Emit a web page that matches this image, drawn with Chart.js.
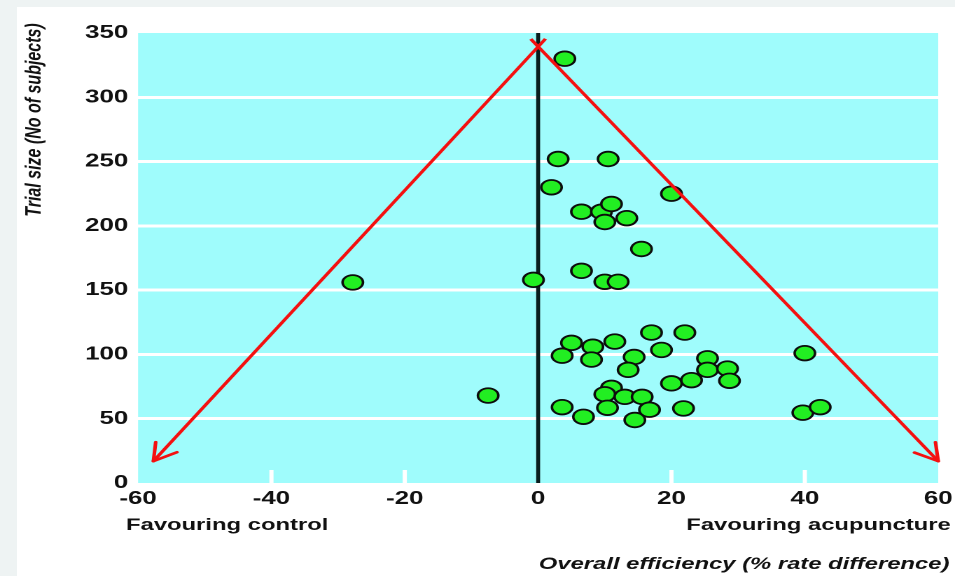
<!DOCTYPE html>
<html>
<head>
<meta charset="utf-8">
<title>Funnel plot - acupuncture trials</title>
<script src="https://cdn.jsdelivr.net/npm/chart.js@4.4.1/dist/chart.umd.min.js"></script>
<style>
    html, body { margin: 0; padding: 0; background: #ffffff; }
    #wrap { position: relative; width: 955px; height: 576px; overflow: hidden; }
    .strip { position: absolute; background: #eef3f3; }
    #funnel { position: absolute; left: 0; top: 0; }
</style>
</head>
<body>
<div id="wrap">
    <div class="strip" style="left:0;top:0;width:955px;height:7px"></div>
    <div class="strip" style="left:0;top:0;width:17px;height:576px"></div>
    <!-- the original figure is stretched sideways, so the canvas is drawn narrow and widened by css -->
    <canvas id="funnel" width="682" height="576" style="width:955px;height:576px"></canvas>
</div>
<script>
// Trial results: effect (% rate difference) and trial size (no of subjects)
const effect = [4, 3, 10.5, 2, 20, 6.5, 9.5, 11, 13.3, 10,
    15.5, 6.5, -0.7, 10, 12, -27.8, -7.5, 5, 3.6, 8.2,
    8, 11.5, 17, 22, 18.5, 14.4, 13.5, 3.6, 6.8, 11,
    10, 10.4, 13, 15.6, 16.7, 14.5, 21.8, 20, 23, 25.4,
    25.4, 28.4, 28.7, 40, 39.7, 42.3];
const trialSize = [330, 252, 252, 230, 225, 211, 211, 217, 206, 203,
    182, 165, 158, 156.5, 156.5, 156, 68, 109, 99, 106,
    96, 110, 117, 117, 103.5, 98, 88, 59, 51.5, 74,
    69, 58.5, 67, 67, 57, 49, 58, 77.5, 80, 97,
    88, 89, 79.5, 101, 54.7, 59];

const xTickValues = [-60, -40, -20, 0, 20, 40, 60];
const yTickValues = [0, 50, 100, 150, 200, 250, 300, 350];
// short white marks on the bottom edge
const xMarkValues = [-40, -20, 20, 40];

// funnel arms: arrow tip first, then just past the apex
const leftArmX = [-57.7, 1.1];
const leftArmY = [17, 345.5];
const rightArmX = [60, -1.1];
const rightArmY = [17, 345.3];
// line of no effect
const nullLineX = [0, 0];
const nullLineY = [0, 350];

const FONT = "'Liberation Sans', Arial, Helvetica, sans-serif";
const armColor = '#f41010';

function toPoints(xs, ys) {
    return xs.map((x, i) => ({ x: x, y: ys[i] }));
}

// background, edge marks, arrow heads and the extra labels
const decorations = {
    id: 'decorations',
    beforeDraw(chart) {
        const { ctx, chartArea: a } = chart;
        ctx.save();
        ctx.fillStyle = '#9ffcfc';
        ctx.fillRect(a.left, a.top, a.right - a.left, a.bottom - a.top);
        ctx.restore();
    },
    beforeDatasetsDraw(chart) {
        const { ctx, chartArea: a } = chart;
        const x = chart.scales.x;
        ctx.save();
        ctx.strokeStyle = '#ffffff';
        ctx.lineWidth = 3;
        xMarkValues.forEach((v) => {
            const px = x.getPixelForValue(v);
            ctx.beginPath();
            ctx.moveTo(px, a.bottom);
            ctx.lineTo(px, a.bottom - 13);
            ctx.stroke();
        });
        ctx.restore();
    },
    afterDatasetsDraw(chart) {
        const ctx = chart.ctx;
        ctx.save();
        ctx.strokeStyle = armColor;
        ctx.lineWidth = 2.6;
        ctx.lineCap = 'round';
        [0, 1].forEach((i) => {
            const pts = chart.getDatasetMeta(i).data;
            const tip = pts[0];
            const from = pts[1];
            const ang = Math.atan2(from.y - tip.y, from.x - tip.x);
            [-0.5, 0.5].forEach((d) => {
                ctx.beginPath();
                ctx.moveTo(tip.x, tip.y);
                ctx.lineTo(tip.x + 19 * Math.cos(ang + d), tip.y + 19 * Math.sin(ang + d));
                ctx.stroke();
            });
        });
        ctx.restore();
    },
    afterDraw(chart) {
        const ctx = chart.ctx;
        ctx.save();
        ctx.fillStyle = '#111111';
        ctx.textBaseline = 'alphabetic';
        ctx.font = 'bold 17px ' + FONT;
        ctx.textAlign = 'left';
        ctx.fillText('Favouring control', 90, 530);
        ctx.textAlign = 'right';
        ctx.fillText('Favouring acupuncture', 679, 530);
        ctx.font = 'italic bold 17px ' + FONT;
        ctx.fillText('Overall efficiency (% rate difference)', 678, 569);

        ctx.translate(29, 120);
        ctx.rotate(-Math.PI / 2);
        ctx.textAlign = 'center';
        ctx.font = 'italic bold 16px ' + FONT;
        ctx.fillText('Trial size (No of subjects)', 0, 0);
        ctx.restore();
    }
};

const tickFont = { family: FONT, size: 18.5, weight: 'bold' };

new Chart(document.getElementById('funnel'), {
    type: 'scatter',
    data: {
        datasets: [
            {
                label: 'Left arm',
                data: toPoints(leftArmX, leftArmY),
                showLine: true,
                borderColor: armColor,
                borderWidth: 2.6,
                pointRadius: 0,
                fill: false
            },
            {
                label: 'Right arm',
                data: toPoints(rightArmX, rightArmY),
                showLine: true,
                borderColor: armColor,
                borderWidth: 2.6,
                pointRadius: 0,
                fill: false
            },
            {
                label: 'Trials',
                data: toPoints(effect, trialSize),
                pointStyle: 'circle',
                pointRadius: 7.3,
                pointHoverRadius: 7.3,
                pointBorderWidth: 1.8,
                pointBorderColor: '#0c0c0c',
                pointBackgroundColor: '#22ee22'
            },
            {
                label: 'No effect',
                data: toPoints(nullLineX, nullLineY),
                showLine: true,
                borderColor: '#0a1d1d',
                borderWidth: 2.8,
                pointRadius: 0,
                fill: false
            }
        ]
    },
    options: {
        responsive: false,
        devicePixelRatio: 2,
        animation: false,
        events: [],
        layout: { padding: { left: 0, top: 33, right: 12, bottom: 0 } },
        plugins: {
            legend: { display: false },
            tooltip: { enabled: false }
        },
        scales: {
            x: {
                type: 'linear',
                min: -60,
                max: 60,
                afterBuildTicks: (s) => { s.ticks = xTickValues.map((v) => ({ value: v })); },
                afterFit: (s) => { s.height = 93; },
                grid: { display: false },
                border: { display: false },
                ticks: {
                    padding: -3,
                    color: '#111111',
                    font: tickFont,
                    maxRotation: 0,
                    autoSkip: false
                }
            },
            y: {
                type: 'linear',
                min: 0,
                max: 350,
                afterBuildTicks: (s) => { s.ticks = yTickValues.map((v) => ({ value: v })); },
                afterFit: (s) => { s.width = 98.6; },
                grid: {
                    color: (c) => (c.tick && (c.tick.value === 0 || c.tick.value === 350)) ? 'rgba(0,0,0,0)' : '#ffffff',
                    lineWidth: 3,
                    drawTicks: false
                },
                border: { display: false },
                ticks: {
                    padding: 7,
                    color: '#111111',
                    font: tickFont,
                    autoSkip: false
                }
            }
        }
    },
    plugins: [decorations]
});
</script>
</body>
</html>
